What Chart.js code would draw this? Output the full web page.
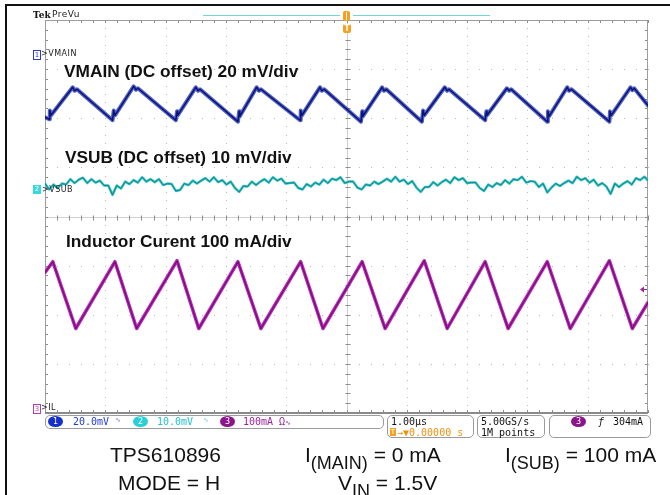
<!DOCTYPE html>
<html>
<head>
<meta charset="utf-8">
<script src="https://cdn.jsdelivr.net/npm/chart.js@4"></script>
<style>
body{margin:0;background:#fff;}
#wrap{position:relative;width:670px;height:495px;overflow:hidden;background:#fff;font-family:"Liberation Sans",Arial,sans-serif;}
#c{position:absolute;left:0;top:0;}
.t{position:absolute;white-space:nowrap;line-height:1;}
.lbl{font-weight:bold;font-size:17.3px;color:#111;}
.cap{font-size:21px;color:#111;}
.cap .sb{font-size:18px;position:relative;top:7px;}
.box{position:absolute;border:1px solid #9a9a9a;border-radius:5px;box-sizing:border-box;}
.mono{font-family:"DejaVu Sans Mono",monospace;font-size:10px;}
.ch{position:absolute;width:15px;height:11px;border-radius:50%;color:#fff;font-family:"DejaVu Sans",sans-serif;font-size:8px;line-height:11px;text-align:center;}
.small{font-family:"DejaVu Sans",sans-serif;font-size:8px;color:#222;letter-spacing:0.5px;}
</style>
</head>
<body>
<div id="wrap">
<canvas id="c" width="670" height="495"></canvas>

<!-- figure frame -->
<div style="position:absolute;left:5px;top:4px;width:665px;height:2px;background:#111;"></div>
<div style="position:absolute;left:5px;top:4px;width:2px;height:491px;background:#111;"></div>

<!-- header -->
<div class="t" style="left:33px;top:11px;font-family:'DejaVu Serif',serif;font-weight:bold;font-size:9px;color:#111;">Tek</div>
<div class="t small" style="left:52px;top:10px;font-size:9px;">PreVu</div>
<div style="position:absolute;left:203px;top:15px;width:137px;height:1px;background:#6fd6e0;"></div>
<div style="position:absolute;left:353px;top:15px;width:137px;height:1px;background:#6fd6e0;"></div>
<div style="position:absolute;left:343px;top:11px;width:7px;height:10px;background:#f4a020;border-radius:2px;"></div>
<div style="position:absolute;left:346px;top:12px;width:1px;height:8px;background:#fff4dc;"></div>
<div style="position:absolute;left:343px;top:24px;width:8px;height:9px;background:#f4a020;border-radius:2px;color:#fff;font-family:'DejaVu Sans',sans-serif;font-weight:bold;font-size:8px;line-height:9px;text-align:center;">T</div>

<!-- channel markers -->
<div class="t" style="left:33px;top:50px;width:6px;height:8px;border:1px solid #2a3ad0;font-family:'DejaVu Sans',sans-serif;font-size:7px;color:#2a3ad0;text-align:center;line-height:8px;">1</div>
<div class="t small" style="left:41px;top:50px;">&gt;VMAIN</div>
<div class="t" style="left:33px;top:185px;width:8px;height:9px;background:#38d8e0;font-family:'DejaVu Sans',sans-serif;font-size:7px;color:#fff;text-align:center;line-height:9px;">2</div>
<div class="t small" style="left:42px;top:186px;">&gt;VSUB</div>
<div class="t" style="left:33px;top:404px;width:6px;height:8px;border:1px solid #b040b0;font-family:'DejaVu Sans',sans-serif;font-size:7px;color:#b040b0;text-align:center;line-height:8px;">3</div>
<div class="t small" style="left:41px;top:404px;">&gt;IL</div>

<!-- trace labels -->
<div class="t lbl" style="left:64px;top:63px;">VMAIN (DC offset) 20 mV/div</div>
<div class="t lbl" style="left:65px;top:149px;">VSUB (DC offset) 10 mV/div</div>
<div class="t lbl" style="left:66px;top:233px;">Inductor Curent 100 mA/div</div>

<!-- status bar -->
<div class="box" style="left:45px;top:415px;width:339px;height:14px;"></div>
<div class="ch" style="left:48px;top:416px;background:#1530c8;">1</div>
<div class="t mono" style="left:73px;top:417px;color:#1e3cd0;">20.0mV</div>
<div class="t mono" style="left:115px;top:417px;color:#6a7ad0;font-size:7px;">&#8767;</div>
<div class="ch" style="left:133px;top:416px;background:#2ad0d8;">2</div>
<div class="t mono" style="left:157px;top:417px;color:#22c4cc;">10.0mV</div>
<div class="t mono" style="left:203px;top:417px;color:#6ad0d8;font-size:7px;">&#8767;</div>
<div class="ch" style="left:220px;top:416px;background:#8a168a;">3</div>
<div class="t mono" style="left:243px;top:417px;color:#a020a0;">100mA &#937;<span style="font-size:7px;">&#8767;</span></div>

<div class="box" style="left:387px;top:415px;width:87px;height:23px;"></div>
<div class="t mono" style="left:391px;top:417px;color:#111;">1.00&#181;s</div>
<div class="t" style="left:390px;top:428px;width:6px;height:8px;background:#f4a020;color:#fff;font-family:'DejaVu Sans',sans-serif;font-size:7px;line-height:8px;text-align:center;">T</div>
<div class="t mono" style="left:397px;top:428px;color:#f09010;">&#8594;&#9660;0.00000 s</div>

<div class="box" style="left:477px;top:415px;width:68px;height:23px;"></div>
<div class="t mono" style="left:481px;top:417px;color:#111;">5.00GS/s</div>
<div class="t mono" style="left:481px;top:428px;color:#111;">1M points</div>

<div class="box" style="left:549px;top:415px;width:102px;height:23px;"></div>
<div class="ch" style="left:571px;top:416px;background:#8a168a;">3</div>
<div class="t mono" style="left:598px;top:417px;color:#111;font-style:italic;">&#402;</div>
<div class="t mono" style="left:613px;top:417px;color:#111;">304mA</div>

<!-- captions -->
<div class="t cap" style="left:110px;top:444px;">TPS610896</div>
<div class="t cap" style="left:305px;top:444px;">I<span class="sb">(MAIN)</span> = 0 mA</div>
<div class="t cap" style="left:505px;top:444px;">I<span class="sb">(SUB)</span> = 100 mA</div>
<div class="t cap" style="left:118px;top:472px;">MODE = H</div>
<div class="t cap" style="left:338px;top:472px;">V<span class="sb">IN</span> = 1.5V</div>
</div>

<script>
// time base in microseconds (1 us/div), vertical values in screen divisions
var vmainT = [-5.00, -4.93, -4.92, -4.90, -4.54, -4.51, -4.47, -3.88, -3.86, -3.84, -3.53, -3.49, -3.46,
  -2.83, -2.81, -2.80, -2.50, -2.46, -2.43, -1.80, -1.78, -1.77, -1.49, -1.45, -1.42,
  -0.77, -0.76, -0.74, -0.44, -0.41, -0.37, 0.24, 0.26, 0.27, 0.59, 0.62, 0.66,
  1.25, 1.27, 1.29, 1.63, 1.67, 1.70, 2.30, 2.32, 2.33, 2.66, 2.70, 2.73,
  3.33, 3.34, 3.36, 3.66, 3.69, 3.73, 4.36, 4.37, 4.39, 4.71, 4.74, 4.77, 5.00];
var vmainDiv = [2.02, 1.98, 2.16, 2.06, 2.63, 2.56, 2.59, 1.96, 2.16, 2.06, 2.65, 2.58, 2.61,
  1.96, 2.14, 2.06, 2.63, 2.56, 2.59, 1.93, 2.14, 2.04, 2.63, 2.56, 2.59,
  1.96, 2.16, 2.06, 2.63, 2.56, 2.59, 1.93, 2.14, 2.04, 2.63, 2.56, 2.59,
  1.93, 2.16, 2.06, 2.63, 2.56, 2.59, 1.96, 2.14, 2.06, 2.61, 2.56, 2.59,
  1.93, 2.14, 2.04, 2.63, 2.56, 2.59, 1.93, 2.14, 2.06, 2.63, 2.57, 2.61, 2.26];

var vsubT = [-5.00, -4.93, -4.86, -4.79, -4.72, -4.65, -4.58, -4.51, -4.44, -4.37, -4.30, -4.23, -4.16, -4.09, -4.02, -3.95, -3.88,
  -3.81, -3.74, -3.67, -3.60, -3.53, -3.46, -3.39, -3.32, -3.25, -3.18, -3.11, -3.04, -2.97, -2.90, -2.83,
  -2.76, -2.69, -2.62, -2.55, -2.48, -2.41, -2.34, -2.27, -2.20, -2.13, -2.06, -1.99, -1.92, -1.85, -1.78,
  -1.71, -1.64, -1.57, -1.50, -1.43, -1.36, -1.29, -1.22, -1.15, -1.08, -1.01, -0.94, -0.87, -0.80, -0.73,
  -0.66, -0.59, -0.52, -0.45, -0.38, -0.31, -0.24, -0.17, -0.10, -0.03, 0.04, 0.11, 0.18, 0.25,
  0.32, 0.39, 0.46, 0.53, 0.60, 0.67, 0.74, 0.81, 0.88, 0.95, 1.02, 1.09, 1.16, 1.23,
  1.30, 1.37, 1.44, 1.51, 1.58, 1.65, 1.72, 1.79, 1.86, 1.93, 2.00, 2.07, 2.14, 2.21, 2.28,
  2.35, 2.42, 2.49, 2.56, 2.63, 2.70, 2.77, 2.84, 2.91, 2.98, 3.05, 3.12, 3.19, 3.26, 3.33,
  3.40, 3.47, 3.54, 3.61, 3.68, 3.75, 3.82, 3.89, 3.96, 4.03, 4.10, 4.17, 4.24, 4.31, 4.38,
  4.45, 4.52, 4.59, 4.66, 4.73, 4.80, 4.87, 4.94, 5.00];
var vsubDiv = [0.67, 0.55,
  0.65, 0.58, 0.67, 0.65, 0.76, 0.68, 0.75, 0.79, 0.68, 0.76, 0.69, 0.73, 0.63, 0.63, 0.44,
  0.63, 0.57, 0.71, 0.66, 0.74, 0.69, 0.80, 0.71, 0.76, 0.70, 0.76, 0.64, 0.67, 0.66, 0.52,
  0.54, 0.67, 0.64, 0.73, 0.67, 0.73, 0.78, 0.71, 0.80, 0.70, 0.74, 0.65, 0.71, 0.58, 0.50,
  0.62, 0.61, 0.71, 0.64, 0.71, 0.76, 0.69, 0.80, 0.73, 0.77, 0.67, 0.68, 0.69, 0.58, 0.55,
  0.66, 0.61, 0.69, 0.65, 0.75, 0.68, 0.77, 0.74, 0.80, 0.68, 0.71, 0.71, 0.59, 0.55,
  0.65, 0.63, 0.71, 0.66, 0.71, 0.77, 0.71, 0.81, 0.71, 0.75, 0.66, 0.72, 0.59, 0.50,
  0.60, 0.60, 0.70, 0.63, 0.70, 0.75, 0.68, 0.80, 0.74, 0.78, 0.68, 0.69, 0.69, 0.58, 0.52,
  0.65, 0.60, 0.68, 0.64, 0.74, 0.67, 0.76, 0.74, 0.81, 0.69, 0.72, 0.71, 0.60, 0.67, 0.49,
  0.59, 0.67, 0.62, 0.68, 0.73, 0.68, 0.81, 0.74, 0.78, 0.69, 0.75, 0.63, 0.68, 0.61, 0.46,
  0.67, 0.60, 0.67, 0.72, 0.65, 0.78, 0.74, 0.81, 0.73];

var ilT = [-5.00, -4.87, -4.49, -3.84, -3.48, -2.81, -2.45, -1.80, -1.42, -0.76, -0.39,
  0.26, 0.64, 1.29, 1.67, 2.30, 2.68, 3.33, 3.71, 4.36, 4.74, 5.00];
var ilDiv = [-1.14, -0.92, -2.28, -0.92, -2.28, -0.90, -2.28, -0.92, -2.28, -0.92, -2.28,
  -0.92, -2.28, -0.90, -2.28, -0.92, -2.28, -0.92, -2.28, -0.90, -2.28, -1.75];

var trigLevelDiv = -1.47;

function pts(t, v) {
  return t.map(function(tt, i) { return {x: tt, y: v[i]}; });
}

var scopeGrid = {
  id: 'scopeGrid',
  beforeDatasetsDraw: function(chart) {
    var ctx = chart.ctx, a = chart.chartArea, x = chart.scales.x, y = chart.scales.y;
    var i, k, px, py;
    ctx.save();
    ctx.fillStyle = '#b8b8b8';
    for (i = -3; i <= 3; i++) {
      if (i === 0) continue;
      py = Math.round(y.getPixelForValue(i));
      for (k = -25; k <= 25; k++) ctx.fillRect(Math.round(x.getPixelForValue(k * 0.2)), py, 1, 1);
    }
    for (i = -4; i <= 4; i++) {
      if (i === 0) continue;
      px = Math.round(x.getPixelForValue(i));
      for (k = -24; k <= 24; k++) ctx.fillRect(px, Math.round(y.getPixelForValue(k / 6)), 1, 1);
    }
    var cx = Math.round(x.getPixelForValue(0)) + 0.5, cy = Math.round(y.getPixelForValue(0)) + 0.5;
    ctx.strokeStyle = '#cfcfcf';
    ctx.lineWidth = 1;
    ctx.beginPath();
    ctx.moveTo(a.left, cy); ctx.lineTo(a.right, cy);
    ctx.moveTo(cx, a.top); ctx.lineTo(cx, a.bottom);
    ctx.stroke();
    ctx.strokeStyle = '#8c8c8c';
    ctx.beginPath();
    for (k = -25; k <= 25; k++) {
      px = Math.round(x.getPixelForValue(k * 0.2)) + 0.5;
      ctx.moveTo(px, cy - 2); ctx.lineTo(px, cy + 3);
      ctx.moveTo(px, a.top); ctx.lineTo(px, a.top + 3);
      ctx.moveTo(px, a.bottom); ctx.lineTo(px, a.bottom - 3);
    }
    for (k = -20; k <= 20; k++) {
      py = Math.round(y.getPixelForValue(k * 0.2)) + 0.5;
      ctx.moveTo(cx - 2, py); ctx.lineTo(cx + 3, py);
      ctx.moveTo(a.left, py); ctx.lineTo(a.left + 3, py);
      ctx.moveTo(a.right, py); ctx.lineTo(a.right - 3, py);
    }
    ctx.stroke();
    ctx.strokeStyle = '#9c9c9c';
    ctx.strokeRect(a.left + 0.5, a.top + 0.5, a.right - a.left - 1, a.bottom - a.top - 1);
    ctx.fillStyle = '#8a8a8a';
    ctx.fillRect(a.left, a.bottom - 1, a.right - a.left, 2);
    ctx.restore();
  },
  afterDraw: function(chart) {
    // trigger level arrow on the right edge
    var ctx = chart.ctx, a = chart.chartArea;
    var py = Math.round(chart.scales.y.getPixelForValue(trigLevelDiv)) + 0.5;
    ctx.save();
    ctx.fillStyle = '#a020a0';
    ctx.strokeStyle = '#a020a0';
    ctx.beginPath();
    ctx.moveTo(a.right - 8, py); ctx.lineTo(a.right - 4, py - 3); ctx.lineTo(a.right - 4, py + 3);
    ctx.closePath(); ctx.fill();
    ctx.beginPath(); ctx.moveTo(a.right - 5, py); ctx.lineTo(a.right - 1, py); ctx.stroke();
    ctx.restore();
  }
};

new Chart(document.getElementById('c').getContext('2d'), {
  type: 'line',
  data: {
    datasets: [
      {data: pts(vmainT, vmainDiv), borderColor: '#0a1478', borderWidth: 1.5},
      {data: pts(vmainT, vmainDiv), borderColor: 'rgba(40,58,180,0.8)', borderWidth: 4},
      {data: pts(vsubT, vsubDiv), borderColor: '#167474', borderWidth: 0.8},
      {data: pts(vsubT, vsubDiv), borderColor: '#2ec2c6', borderWidth: 2.5},
      {data: pts(ilT, ilDiv), borderColor: '#7a0a7a', borderWidth: 1.2},
      {data: pts(ilT, ilDiv), borderColor: '#b52db5', borderWidth: 3.5}
    ]
  },
  options: {
    responsive: false,
    animation: false,
    devicePixelRatio: 1,
    layout: {padding: {left: 45, right: 22, top: 20, bottom: 82}},
    elements: {
      point: {radius: 0},
      line: {tension: 0, borderJoinStyle: 'round', borderCapStyle: 'round'}
    },
    plugins: {legend: {display: false}, tooltip: {enabled: false}},
    scales: {
      x: {type: 'linear', min: -5, max: 5, display: false},
      y: {type: 'linear', min: -4, max: 4, display: false}
    }
  },
  plugins: [scopeGrid]
});
</script>
</body>
</html>
